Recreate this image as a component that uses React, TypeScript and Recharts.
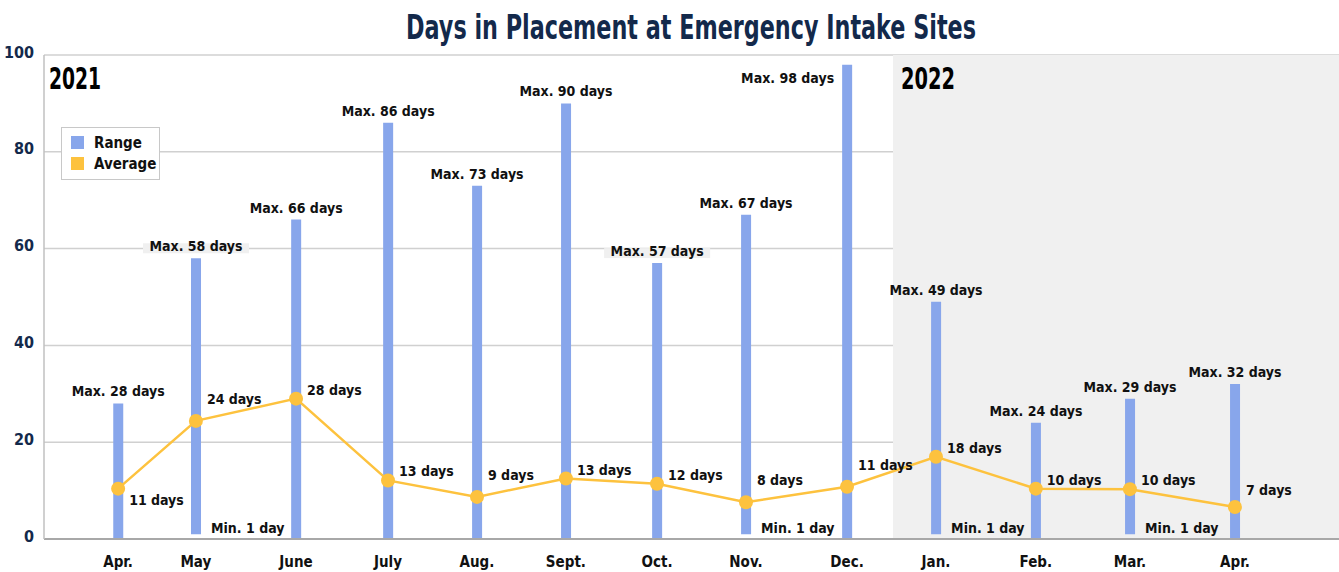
import React from "react"
import {
  ComposedChart,
  Bar,
  Line,
  XAxis,
  YAxis,
  CartesianGrid,
  ReferenceArea,
  LabelList
} from "recharts"

const months = ["Apr.", "May", "June", "July", "Aug.", "Sept.", "Oct.", "Nov.", "Dec.", "Jan.", "Feb.", "Mar.", "Apr."]
// day of the reporting period each point sits on (the axis is time based, so spacing is uneven)
const dayOfPeriod = [24.5, 50.2, 83.3, 113.7, 143.1, 172.5, 202.6, 232.0, 265.4, 294.8, 327.8, 358.9, 393.6]
const minDays = [0, 1, 0, 0, 0, 0, 0, 1, 0, 1, 0, 1, 0]
const maxDays = [28, 58, 66, 86, 73, 90, 57, 67, 98, 49, 24, 29, 32]
const avgDays = [10.4, 24.4, 29.0, 12.1, 8.7, 12.5, 11.4, 7.6, 10.8, 17.0, 10.4, 10.3, 6.6]
const avgLabels = [11, 24, 28, 13, 9, 13, 12, 8, 11, 18, 10, 10, 7]
const yTicks = [0, 20, 40, 60, 80, 100]
const periodEnd = 428
const start2022 = 280.6

const FONT = "'DejaVu Sans', sans-serif"
const NAVY = "#13294B"
const BLUE = "#88A6EB"
const GOLD = "#FDC23E"

const data = months.map((m, i) => ({
  x: dayOfPeriod[i],
  month: m,
  range: [minDays[i], maxDays[i]],
  avg: avgDays[i]
}))

const labelStyle: any = { fontFamily: FONT, fontStretch: "condensed", fontWeight: 700, fontSize: 14, fill: "#111" }

function MaxLabel(props: any) {
  const { x, y, width, index } = props
  const cx = x + width / 2
  const text = `Max. ${maxDays[index]} days`
  // very tall bar: label goes to the left of the bar top
  if (maxDays[index] > 95) {
    return (
      <text x={x - 8} y={y + 14} textAnchor="end" dominantBaseline="middle" style={labelStyle}>
        {text}
      </text>
    )
  }
  const ly = y - 11
  // labels sitting on a gridline get a light box behind them
  const r = ((maxDays[index] + 2.3) % 20 + 20) % 20
  const nearGrid = r < 1.5 || r > 18.5
  return (
    <g>
      {nearGrid && <rect x={cx - 53} y={ly - 4} width={106} height={10} fill="#F0F0F0" />}
      <text x={cx} y={ly} textAnchor="middle" dominantBaseline="middle" style={labelStyle}>
        {text}
      </text>
    </g>
  )
}

function MinLabel(props: any) {
  const { x, y, width, height, index } = props
  if (!minDays[index]) return null
  return (
    <text x={x + width + 10} y={y + height - 5} textAnchor="start" dominantBaseline="middle" style={labelStyle}>
      {`Min. ${minDays[index]} day`}
    </text>
  )
}

function AvgLabel(props: any) {
  const { x, y, index } = props
  // keep the label clear of the line: higher when the next segment climbs
  let dy = -8
  if (index === 0) dy = 12
  else if (index === avgDays.length - 1) dy = -16
  else if (avgDays[index + 1] - avgDays[index] > 1) dy = -21
  return (
    <text x={x + 11} y={y + dy} textAnchor="start" dominantBaseline="middle" style={labelStyle}>
      {`${avgLabels[index]} days`}
    </text>
  )
}

function yearLabel(text: string, dx: number, w: number) {
  return (props: any) => {
    const vb = props.viewBox || {}
    return (
      <text
        x={vb.x + dx}
        y={vb.y + 34}
        textLength={w}
        lengthAdjust="spacingAndGlyphs"
        style={{ fontFamily: FONT, fontWeight: 700, fontSize: 30, fill: "#000" }}
      >
        {text}
      </text>
    )
  }
}

function LegendBox() {
  const items = [
    { name: "Range", color: BLUE },
    { name: "Average", color: GOLD }
  ]
  return (
    <div
      style={{
        position: "absolute",
        left: 61,
        top: 127,
        width: 88,
        border: "1px solid #C8C8C8",
        background: "#fff",
        padding: "4px 0 5px 9px"
      }}
    >
      {items.map((it) => (
        <div key={it.name} style={{ display: "flex", alignItems: "center", height: 21 }}>
          <span style={{ width: 13, height: 13, background: it.color, marginRight: 10 }} />
          <span style={{ fontFamily: FONT, fontStretch: "condensed", fontWeight: 700, fontSize: 15, color: "#111" }}>
            {it.name}
          </span>
        </div>
      ))}
    </div>
  )
}

export default function App() {
  return (
    <div style={{ position: "absolute", left: 0, top: 0, width: 1339, height: 572, background: "#fff" }}>
      <svg width={1339} height={50} style={{ position: "absolute", left: 0, top: 0 }}>
        <text
          x={691}
          y={39}
          textAnchor="middle"
          textLength={570}
          lengthAdjust="spacingAndGlyphs"
          style={{ fontFamily: FONT, fontWeight: 700, fontSize: 34, fill: NAVY }}
        >
          Days in Placement at Emergency Intake Sites
        </text>
      </svg>

      <div style={{ position: "absolute", left: 0, top: 0 }}>
        <ComposedChart
          width={1339}
          height={572}
          data={data}
          margin={{ top: 55, right: 0, bottom: 0, left: 0 }}
        >
          <ReferenceArea
            x1={0}
            x2={start2022}
            y1={0}
            y2={100}
            fill="none"
            label={yearLabel("2021", 5, 52)}
          />
          <ReferenceArea
            x1={start2022}
            x2={periodEnd}
            y1={0}
            y2={100}
            fill="#F0F0F0"
            fillOpacity={1}
            label={yearLabel("2022", 8, 54)}
          />
          <CartesianGrid vertical={false} stroke="#D0D0D0" strokeWidth={1.5} />
          <XAxis
            type="number"
            dataKey="x"
            domain={[0, periodEnd]}
            ticks={dayOfPeriod}
            tickFormatter={(_v: any, i: number) => months[i]}
            interval={0}
            height={33}
            tickLine={false}
            tickSize={0}
            tickMargin={17}
            axisLine={{ stroke: "#A8A8A8", strokeWidth: 2 }}
            tick={{ fontFamily: FONT, fontStretch: "condensed", fontWeight: 700, fontSize: 15, fill: "#111" }}
          />
          <YAxis
            domain={[0, 100]}
            ticks={yTicks}
            width={44}
            tickLine={false}
            tickSize={0}
            tickMargin={10}
            axisLine={{ stroke: "#C0C0C0", strokeWidth: 1.5 }}
            tick={{ fontFamily: FONT, fontStretch: "condensed", fontWeight: 700, fontSize: 16, fill: NAVY, dy: -3 }}
          />
          <Bar dataKey="range" name="Range" barSize={10} fill={BLUE} isAnimationActive={false}>
            <LabelList dataKey="range" content={MaxLabel} />
            <LabelList dataKey="range" content={MinLabel} />
          </Bar>
          <Line
            dataKey="avg"
            name="Average"
            stroke={GOLD}
            strokeWidth={2.5}
            dot={{ r: 7, fill: GOLD, stroke: "none" }}
            activeDot={false}
            isAnimationActive={false}
          >
            <LabelList dataKey="avg" content={AvgLabel} />
          </Line>
        </ComposedChart>
      </div>
      <LegendBox />
    </div>
  )
}
